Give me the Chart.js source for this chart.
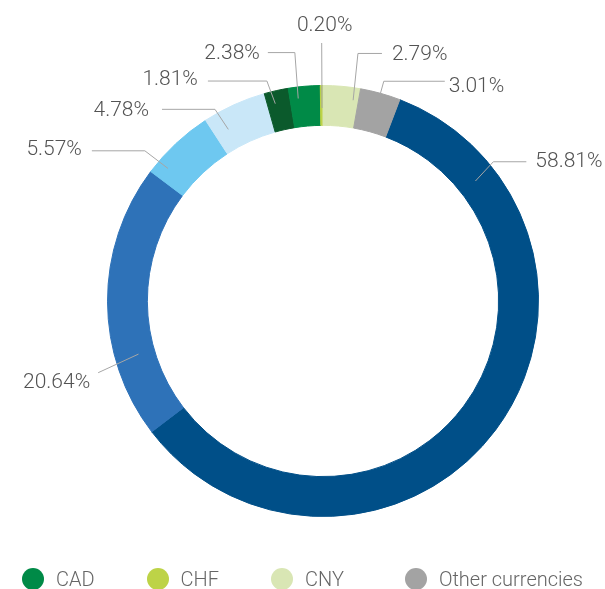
<!DOCTYPE html>
<html>
<head>
<meta charset="utf-8">
<script src="https://cdn.jsdelivr.net/npm/chart.js@4.4.1/dist/chart.umd.min.js"></script>
<style>
    body { margin: 0; background: #fff; }
    #wrap { position: relative; width: 605px; height: 589px; overflow: hidden; }
    #legend {
        position: absolute; left: 0; top: 567px; width: 605px; height: 23px;
        display: flex; justify-content: center; align-items: center;
        font-family: Roboto, sans-serif; font-weight: 300; font-size: 20px; color: #666;
    }
    #legend .item { display: flex; align-items: center; margin-left: 52px; }
    #legend .item:first-child { margin-left: 0; }
    #legend .item:last-child { margin-left: 61px; }
    #legend .dot { width: 22px; height: 22px; border-radius: 50%; margin-right: 12px; }
</style>
</head>
<body>
<div id="wrap">
    <canvas id="currencyChart"></canvas>
    <div id="legend"></div>
</div>
<script>
const currencies = ['USD', 'EUR', 'JPY', 'GBP', 'AUD', 'CAD', 'CHF', 'CNY', 'Other currencies'];
const shares = [58.81, 20.64, 5.57, 4.78, 1.81, 2.38, 0.20, 2.79, 3.01];
const colors = ['#004f88', '#2e72b8', '#6ec8f0', '#c9e7f8', '#0b5a2c', '#008a47', '#bdd347', '#d9e6b4', '#a3a3a3'];
const legendShown = ['CAD', 'CHF', 'CNY', 'Other currencies'];

// where each callout sits: fraction along the slice for anchor / elbow, radii, horizontal run
const callouts = [
    { f0: 0.146, f1: 0.141, r0: 194, r1: 220, len: 33, gap: 9, dy: 0 },
    { f0: 0.287, f1: 0.265, r0: 192, r1: 236, len: 0, gap: 8, dy: 10 },
    { f0: 0.18, f1: 0.16, r0: 204, r1: 233, len: 53, gap: 10, dy: -1 },
    { f0: 0.24, f1: 0.21, r0: 196, r1: 220, len: 53, gap: 13, dy: 1 },
    { f0: 0.34, f1: 0.23, r0: 203, r1: 227, len: 59, gap: 10, dy: -1 },
    { f0: 0.27, f1: 0.33, r0: 204, r1: 250, len: 27, gap: 8, dy: 1 },
    { f0: 0.6, f1: 0.6, r0: 193, r1: 258, len: 0, gap: 0, dy: -17, top: true },
    { f0: 0.85, f1: 0.8, r0: 203, r1: 250, len: 24, gap: 10, dy: 1 },
    { f0: 0.5, f1: 0.5, r0: 214, r1: 228, len: 61, gap: 4, dy: 5 }
];

const startRotation = (shares[7] + shares[8]) / 100 * 360;

const calloutPlugin = {
    id: 'callouts',
    afterDatasetsDraw(chart) {
        const ctx = chart.ctx;
        const meta = chart.getDatasetMeta(0);
        ctx.save();
        ctx.strokeStyle = '#a6a6a6';
        ctx.lineWidth = 1;
        ctx.fillStyle = '#535353';
        ctx.font = '300 21px Roboto';
        meta.data.forEach((arc, i) => {
            const p = arc.getProps(['x', 'y', 'startAngle', 'endAngle'], true);
            const c = callouts[i];
            const a0 = p.startAngle + c.f0 * (p.endAngle - p.startAngle);
            const a1 = p.startAngle + c.f1 * (p.endAngle - p.startAngle);
            const ax = p.x + c.r0 * Math.cos(a0), ay = p.y + c.r0 * Math.sin(a0);
            const ex = p.x + c.r1 * Math.cos(a1), ey = p.y + c.r1 * Math.sin(a1);
            const right = Math.cos(a1) > 0;
            const hx = right ? ex + c.len : ex - c.len;
            ctx.beginPath();
            ctx.moveTo(ax, ay);
            ctx.lineTo(ex, ey);
            if (c.len) ctx.lineTo(hx, ey);
            ctx.stroke();
            const txt = shares[i].toFixed(2) + '%';
            ctx.textBaseline = 'middle';
            if (c.top) {
                ctx.textAlign = 'center';
                ctx.fillText(txt, ex + 3, ey + c.dy);
            } else {
                ctx.textAlign = right ? 'left' : 'right';
                ctx.fillText(txt, right ? hx + c.gap : hx - c.gap, ey + c.dy);
            }
        });
        ctx.restore();
    }
};

const ctx = document.getElementById('currencyChart').getContext('2d');
const currencyChart = new Chart(ctx, {
    type: 'doughnut',
    data: {
        labels: currencies,
        datasets: [{
            data: shares,
            backgroundColor: colors,
            borderColor: colors,
            borderWidth: 1
        }]
    },
    options: {
        responsive: true,
        maintainAspectRatio: false,
        animation: false,
        cutout: '81.5%',
        rotation: startRotation,
        layout: { padding: { top: 85, bottom: 72, left: 41, right: 0 } },
        plugins: {
            legend: { display: false },
            tooltip: { enabled: false }
        }
    },
    plugins: [calloutPlugin]
});

const legendDiv = document.getElementById('legend');
legendShown.forEach(name => {
    const idx = currencies.indexOf(name);
    const item = document.createElement('div');
    item.className = 'item';
    item.innerHTML = `<span class="dot" style="background:${colors[idx]}"></span><span>${name}</span>`;
    legendDiv.appendChild(item);
});
</script>
</body>
</html>
